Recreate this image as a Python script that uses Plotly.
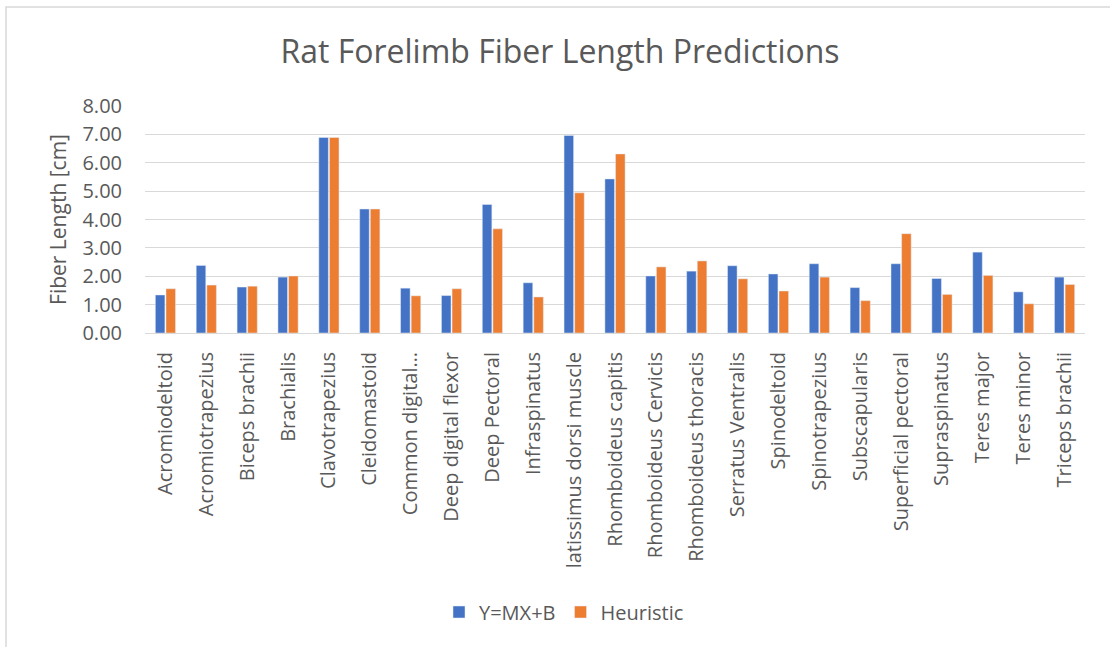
import plotly.graph_objects as go

muscles = [
    "Acromiodeltoid", "Acromiotrapezius", "Biceps brachii", "Brachialis",
    "Clavotrapezius", "Cleidomastoid", "Common digital…", "Deep digital flexor",
    "Deep Pectoral", "Infraspinatus", "latissimus dorsi muscle", "Rhomboideus capitis",
    "Rhomboideus Cervicis", "Rhomboideus thoracis", "Serratus Ventralis", "Spinodeltoid",
    "Spinotrapezius", "Subscapularis", "Superficial pectoral", "Supraspinatus",
    "Teres major", "Teres minor", "Triceps brachii",
]
linear_fit = [
    1.34, 2.38, 1.62, 1.97, 6.89, 4.37, 1.58, 1.32,
    4.53, 1.77, 6.96, 5.43, 2.01, 2.18, 2.37, 2.08,
    2.44, 1.60, 2.44, 1.92, 2.85, 1.45, 1.97,
]
heuristic = [
    1.56, 1.69, 1.65, 2.01, 6.89, 4.37, 1.31, 1.56,
    3.67, 1.27, 4.94, 6.31, 2.33, 2.54, 1.91, 1.48,
    1.97, 1.14, 3.50, 1.36, 2.03, 1.03, 1.71,
]
y_ticks = [0, 1, 2, 3, 4, 5, 6, 7, 8]

FONT = "Open Sans"
GREY = "#595959"

fig = go.Figure()
fig.add_trace(go.Bar(name="Y=MX+B", x=muscles, y=linear_fit, marker_color="#4472C4"))
fig.add_trace(go.Bar(name="Heuristic", x=muscles, y=heuristic, marker_color="#ED7D31"))

W, H = 1110, 647
L, R, T, B = 145, 25, 106, 314
PW, PH = W - L - R, H - T - B

fig.update_layout(
    width=W, height=H,
    margin=dict(l=L, r=R, t=T, b=B),
    paper_bgcolor="white", plot_bgcolor="white",
    barmode="group", bargap=0.48, bargroupgap=0.1,
    font=dict(family=FONT, color=GREY, size=20),
    title=dict(
        text="Rat Forelimb Fiber Length Predictions",
        font=dict(family=FONT, size=32, color=GREY),
        x=560 / W, xanchor="center", xref="container",
        y=1 - 52 / H, yanchor="middle", yref="container",
    ),
    legend=dict(
        orientation="h", xref="container", yref="container",
        x=564 / W, xanchor="center", y=1 - 612 / H, yanchor="middle",
        font=dict(family=FONT, size=20, color=GREY),
        traceorder="normal", itemwidth=30,
    ),
    showlegend=True,
)

fig.update_yaxes(
    range=[0, 8], tickvals=y_ticks, tickformat=".2f",
    showgrid=True, gridcolor="#D9D9D9", gridwidth=1,
    zeroline=False, showline=False,
    ticks="", ticklabelstandoff=22,
    tickfont=dict(family=FONT, size=20, color=GREY),
    title=dict(text="Fiber Length [cm]", font=dict(family=FONT, size=21, color=GREY), standoff=10),
)
fig.update_xaxes(
    tickangle=-90, showgrid=False, zeroline=False,
    showline=True, linecolor="#D9D9D9", linewidth=1,
    ticks="", ticklabelstandoff=10,
    tickfont=dict(family=FONT, size=20, color=GREY),
)

# light frame around the chart area (runs off the right and bottom edges)
fig.add_shape(
    type="rect", xref="paper", yref="paper",
    x0=(6 - L) / PW, x1=(W + 10 - L) / PW,
    y0=-(B + 10) / PH, y1=1 + (T - 7) / PH,
    line=dict(color="#D9D9D9", width=1.5), fillcolor="rgba(0,0,0,0)", layer="below",
)

fig.write_html("out.html")
